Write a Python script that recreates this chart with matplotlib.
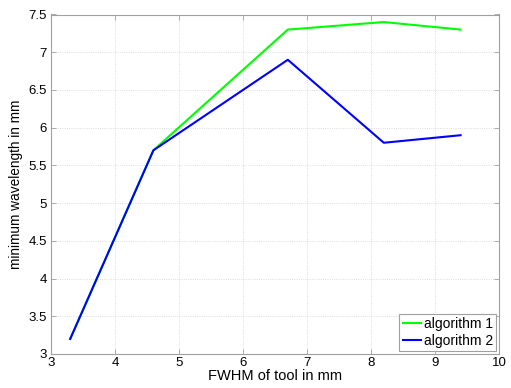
import matplotlib
matplotlib.use("Agg")
import matplotlib.pyplot as plt

plt.rcParams['font.family'] = ['Liberation Sans', 'DejaVu Sans']

x = [3.3, 4.6, 6.7, 8.2, 9.4]
alg1 = [3.2, 5.7, 7.3, 7.4, 7.3]
alg2 = [3.2, 5.7, 6.9, 5.8, 5.9]
xticks = [3, 4, 5, 6, 7, 8, 9, 10]
yticks = [3, 3.5, 4, 4.5, 5, 5.5, 6, 6.5, 7, 7.5]

fig = plt.figure(figsize=(5.11, 3.88), dpi=100)
ax = fig.add_axes([51/511, 1-354/388, 448/511, 339.5/388])
ax.plot(x, alg1, color='#00ff00', lw=1.5, label='algorithm 1')
ax.plot(x, alg2, color='#0000ff', lw=1.5, label='algorithm 2')
ax.set_xlim(3, 10)
ax.set_ylim(3, 7.5)
ax.set_xticks(xticks)
ax.set_yticks(yticks)
ax.set_xticklabels([f'{t:g}' for t in xticks])
ax.set_yticklabels([f'{t:g}' for t in yticks])
ax.grid(True, linestyle=':', color='#d0d0d0', lw=0.6)
for s in ax.spines.values():
    s.set_color('#a0a0a0')
    s.set_linewidth(0.8)
ax.tick_params(direction='in', length=3.5, width=0.6, color='#a0a0a0',
               labelsize=9.5, labelcolor='black', top=True, right=True)
ax.tick_params(axis='x', pad=2.5)
ax.tick_params(axis='y', pad=3)
ax.set_xlabel('FWHM of tool in mm', fontsize=10.5, labelpad=0)
ax.set_ylabel('minimum wavelength in mm', fontsize=9.8, labelpad=4)
leg = ax.legend(loc='lower right', fontsize=10, fancybox=False, framealpha=1,
                edgecolor='#a0a0a0', handlelength=1.3, handletextpad=0.2,
                borderpad=0.25, labelspacing=0.2, borderaxespad=0.2)
leg.get_frame().set_linewidth(0.8)
fig.savefig('out.png', dpi=100)
